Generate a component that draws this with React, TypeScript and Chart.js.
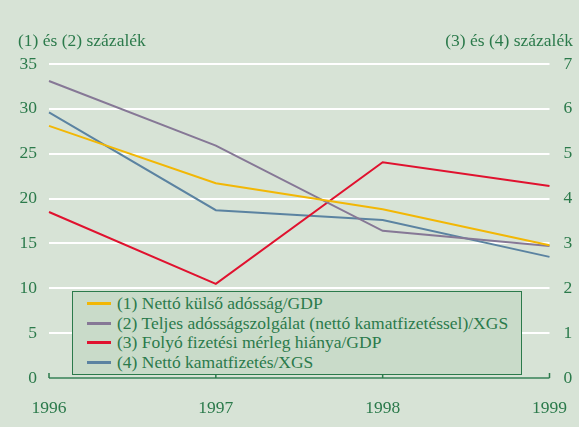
import React, { useEffect, useRef } from "react";
import { Chart, registerables } from "chart.js";

Chart.register(...registerables);

const years = ["1996", "1997", "1998", "1999"];
const nettoKulsoAdossag = [28.1, 21.7, 18.8, 14.8];
const teljesAdossagszolgalat = [33.1, 25.9, 16.4, 14.7];
const folyoFizetesiMerleg = [3.7, 2.1, 4.81, 4.28];
const nettoKamatfizetes = [5.92, 3.74, 3.52, 2.7];

const leftTitle = "(1) és (2) százalék";
const rightTitle = "(3) és (4) százalék";
const seriesLabels = [
  "(1) Nettó külső adósság/GDP",
  "(2) Teljes adósságszolgálat (nettó kamatfizetéssel)/XGS",
  "(3) Folyó fizetési mérleg hiánya/GDP",
  "(4) Nettó kamatfizetés/XGS",
];
const seriesColors = ["#f2b705", "#867896", "#e0122f", "#5b83a1"];

const GREEN = "#2b7a4b";
const BG = "#d7e3d6";
const FONT = "'Liberation Serif', 'Times New Roman', serif";
const FS = 17.5;

const axisPlugin = {
  id: "axisLine",
  afterDraw(chart: any) {
    const { ctx, chartArea, scales } = chart;
    const y = scales.y.getPixelForValue(0);
    ctx.save();
    ctx.strokeStyle = GREEN;
    ctx.lineWidth = 1.5;
    ctx.beginPath();
    ctx.moveTo(chartArea.left, y);
    ctx.lineTo(chartArea.right, y);
    for (let i = 0; i < years.length; i++) {
      const x = scales.x.getPixelForValue(i);
      ctx.moveTo(x, y);
      ctx.lineTo(x, y - 5);
    }
    ctx.stroke();
    ctx.restore();
  },
};

export default function App() {
  const ref = useRef<HTMLCanvasElement>(null);

  useEffect(() => {
    document.body.style.margin = "0";
    const c = ref.current!;
    const chart = new Chart(c, {
      type: "line",
      data: {
        labels: years,
        datasets: [
          { label: seriesLabels[0], data: nettoKulsoAdossag, borderColor: seriesColors[0], yAxisID: "y" },
          { label: seriesLabels[1], data: teljesAdossagszolgalat, borderColor: seriesColors[1], yAxisID: "y" },
          { label: seriesLabels[2], data: folyoFizetesiMerleg, borderColor: seriesColors[2], yAxisID: "y1" },
          { label: seriesLabels[3], data: nettoKamatfizetes, borderColor: seriesColors[3], yAxisID: "y1" },
        ].map((d) => ({ ...d, borderWidth: 2, pointRadius: 0, tension: 0, fill: false })),
      },
      options: {
        animation: false,
        responsive: false,
        maintainAspectRatio: false,
        layout: { padding: { top: 64, bottom: 0, left: 0, right: 0 } },
        plugins: { legend: { display: false }, tooltip: { enabled: false } },
        scales: {
          x: {
            offset: false,
            grid: { display: false },
            border: { display: false },
            ticks: { color: GREEN, font: { family: FONT, size: FS }, padding: 12, maxRotation: 0, autoSkip: false },
            afterFit: (s: any) => { s.height = 49; },
          },
          y: {
            position: "left",
            min: 0,
            max: 35,
            ticks: { stepSize: 5, color: GREEN, font: { family: FONT, size: FS }, padding: 12 },
            grid: { color: "#ffffff", lineWidth: 2, drawTicks: false },
            border: { display: false },
            afterFit: (s: any) => { s.width = 49; },
          },
          y1: {
            position: "right",
            min: 0,
            max: 7,
            ticks: { stepSize: 1, color: GREEN, font: { family: FONT, size: FS }, padding: 14 },
            grid: { display: false, drawTicks: false },
            border: { display: false },
            afterFit: (s: any) => { s.width = 27; },
          },
        },
      },
      plugins: [axisPlugin],
    });
    return () => chart.destroy();
  }, []);

  return (
    <div style={{ position: "relative", width: 579, height: 427, background: BG, fontFamily: FONT, color: GREEN, overflow: "hidden" }}>
      <canvas ref={ref} width={579} height={427} style={{ position: "absolute", left: 0, top: 0 }} />
      <div style={{ position: "absolute", left: 18, top: 30, fontSize: FS, lineHeight: "20px" }}>{leftTitle}</div>
      <div style={{ position: "absolute", right: 6, top: 30, fontSize: FS, lineHeight: "20px" }}>{rightTitle}</div>
      <div
        style={{
          position: "absolute",
          left: 72,
          top: 291,
          width: 450,
          height: 84,
          background: "#c9dbc9",
          border: `1.5px solid ${GREEN}`,
          boxSizing: "border-box",
          paddingTop: 2,
        }}
      >
        {seriesLabels.map((l, i) => (
          <div key={i} style={{ display: "flex", alignItems: "center", height: 19.5, fontSize: FS, whiteSpace: "nowrap" }}>
            <span style={{ display: "inline-block", width: 24, height: 3, background: seriesColors[i], marginLeft: 14, marginRight: 6 }} />
            <span>{l}</span>
          </div>
        ))}
      </div>
    </div>
  );
}
